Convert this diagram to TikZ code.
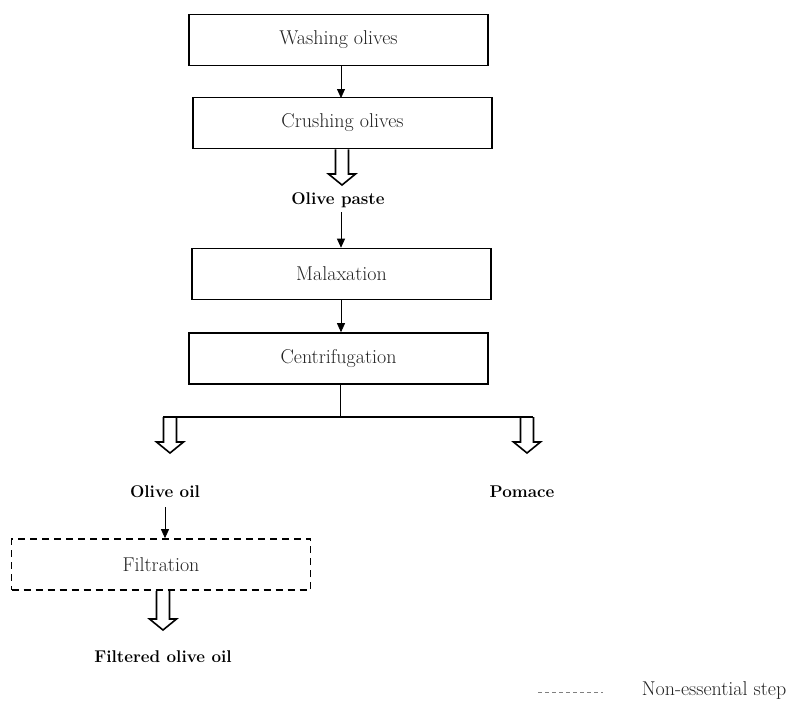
\documentclass[tikz,border=0pt]{standalone}
\usepackage{fontspec}
\usetikzlibrary{arrows.meta,calc}
\definecolor{lbl}{HTML}{222222}
\begin{document}
\begin{tikzpicture}[x=1pt,y=-1pt,
  stepbox/.style={draw, line width=1.6pt, minimum width=299pt, minimum height=51pt, inner sep=0pt, text=lbl, font=\fontsize{20}{24}\selectfont},
  optbox/.style={stepbox, dashed, dash pattern=on 7pt off 5pt},
  prod/.style={inner sep=0pt, font=\fontsize{17}{20}\selectfont\bfseries},
  thin/.style={line width=0.8pt, -{Triangle[length=9pt,width=8pt]}},
  hollow/.style={line width=1.6pt, to path={let \p1=(\tikztostart), \p2=(\tikztotarget) in
     (\x1-6.5pt,\y1) -- (\x1-6.5pt,\y2+11pt) -- (\x1-13.5pt,\y2+11pt) -- (\x1,\y2) -- (\x1+13.5pt,\y2+11pt) -- (\x1+6.5pt,\y2+11pt) -- (\x1+6.5pt,\y1)}}
]
\useasboundingbox (0,0) rectangle (790,705);
\node[stepbox] (wash) at (338.5,40) {Washing olives};
\node[stepbox] (crush) at (342.5,123) {Crushing olives};
\node[prod] (paste) at (338,200) {Olive paste};
\node[stepbox] (malax) at (341.5,274) {Malaxation};
\node[stepbox] (centr) at (338.5,358.5) {Centrifugation};
\coordinate (split) at (340,417);
\coordinate (lsplit) at (170,417);
\coordinate (rsplit) at (527,417);
\coordinate (lend) at (170,453);
\coordinate (rend) at (527,453);
\node[prod] (oil) at (165,492) {Olive oil};
\node[prod] (pomace) at (522,492) {Pomace};
\node[optbox] (filt) at (161,564.5) {Filtration};
\coordinate (fend) at (163,630);
\node[prod] (foil) at (163,657) {Filtered olive oil};

\draw[thin] (wash.south -| 341,0) -- (341,98);
\draw[hollow] (crush.south -| 342,0) to (342,185);
\draw[thin] (341,212) -- (malax.north -| 341,0);
\draw[thin] (341,300) -- (centr.north -| 341,0);
\draw[line width=0.8pt] (centr.south -| split) -- (split);
\draw[line width=1.6pt] (163,417) -- (533,417);
\draw[hollow] (lsplit) to (lend);
\draw[hollow] (rsplit) to (rend);
\draw[thin] (165,507) -- (filt.north -| 165,0);
\draw[hollow] (filt.south -| fend) to (fend);

\coordinate (lg1) at (538,692);
\coordinate (lg2) at (603,692);
\draw[line width=0.6pt, gray, dash pattern=on 4pt off 3pt] (lg1) -- (lg2);
\node[inner sep=0pt, text=lbl, font=\fontsize{20}{24}\selectfont] (legend) at (714,690) {Non-essential step};
\end{tikzpicture}
\end{document}
